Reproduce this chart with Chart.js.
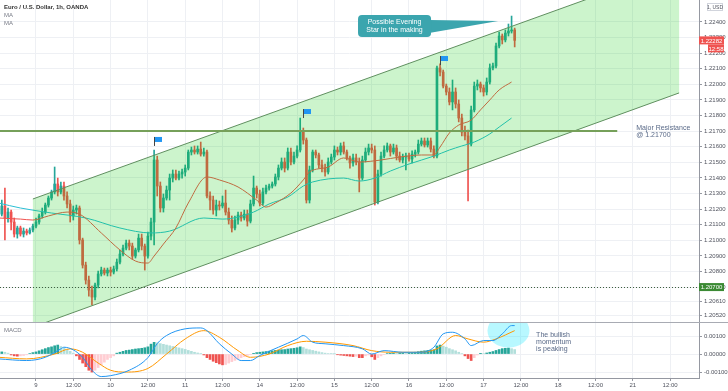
<!DOCTYPE html>
<html><head><meta charset="utf-8">
<script src="https://cdn.jsdelivr.net/npm/chart.js@4"></script>
<style>html,body{margin:0;padding:0;background:#fff;overflow:hidden}</style>
</head><body>
<canvas id="c" width="728" height="391" style="display:block;width:728px;height:391px"></canvas>
<script>
// ---------- DATA ----------
const xTickLabels = ['9','12:00','10','12:00','11','12:00','14','12:00','15','12:00','16','12:00','17','12:00','18','12:00','21','12:00'];
const xTickStart = 12, xTickStep = 12; // hourly bar index of first label and spacing
const priceTicks = [1.224,1.223,1.222,1.221,1.220,1.219,1.218,1.217,1.216,1.215,1.214,1.213,1.212,1.211,1.210,1.209,1.208,1.207,1.2061,1.2052];
const macdTicks = [0.001, 0, -0.001];

const openP = [1.21117,1.21168,1.21220,1.21143,1.21181,1.21117,1.21040,1.21079,1.21040,1.21059,
 1.21047,1.21066,1.21091,1.21117,1.21156,1.21181,1.21226,1.21271,1.21310,1.21361,
 1.21310,1.21348,1.21284,1.21233,1.21156,1.21194,1.21207,1.21002,1.20841,1.20745,
 1.20681,1.20636,1.20713,1.20784,1.20809,1.20790,1.20809,1.20796,1.20816,1.20860,
 1.20912,1.20950,1.20982,1.20963,1.20899,1.20938,1.21014,1.20963,1.20899,1.21027,
 1.21117,1.21515,1.21348,1.21207,1.21271,1.21322,1.21399,1.21425,1.21399,1.21425,
 1.21438,1.21463,1.21566,1.21579,1.21566,1.21585,1.21553,1.21566,1.21284,1.21258,
 1.21194,1.21226,1.21220,1.21239,1.21181,1.21130,1.21079,1.21130,1.21162,1.21143,
 1.21168,1.21123,1.21233,1.21335,1.21297,1.21239,1.21310,1.21335,1.21348,1.21361,
 1.21406,1.21463,1.21502,1.21463,1.21566,1.21502,1.21540,1.21579,1.21701,1.21643,
 1.21258,1.21451,1.21566,1.21547,1.21483,1.21463,1.21438,1.21502,1.21534,1.21579,
 1.21566,1.21605,1.21566,1.21528,1.21496,1.21528,1.21502,1.21399,1.21515,1.21566,
 1.21592,1.21579,1.21245,1.21425,1.21540,1.21579,1.21605,1.21566,1.21592,1.21540,
 1.21515,1.21534,1.21540,1.21521,1.21553,1.21566,1.21617,1.21637,1.21611,1.21637,
 1.21585,1.21540,1.22105,1.22079,1.21989,1.21951,1.21887,1.21951,1.21874,1.21784,
 1.21694,1.21669,1.21617,1.21836,1.21989,1.22002,1.21977,1.21951,1.22015,1.22105,
 1.22118,1.22246,1.22310,1.22285,1.22329,1.22342,1.22349];
const highP = [1.21194,1.21258,1.21335,1.21207,1.21194,1.21143,1.21091,1.21091,1.21079,1.21072,
 1.21079,1.21104,1.21143,1.21168,1.21207,1.21239,1.21284,1.21322,1.21470,1.21399,
 1.21374,1.21374,1.21310,1.21258,1.21220,1.21226,1.21220,1.21014,1.20860,1.20771,
 1.20707,1.20726,1.20803,1.20828,1.20822,1.20822,1.20828,1.20835,1.20880,1.20938,
 1.20970,1.21002,1.21002,1.20982,1.20950,1.21040,1.21040,1.20976,1.21053,1.21143,
 1.21579,1.21540,1.21374,1.21297,1.21348,1.21425,1.21451,1.21451,1.21444,1.21457,
 1.21483,1.21579,1.21598,1.21605,1.21605,1.21630,1.21592,1.21579,1.21310,1.21284,
 1.21258,1.21252,1.21284,1.21322,1.21207,1.21156,1.21156,1.21181,1.21181,1.21194,
 1.21194,1.21258,1.21412,1.21348,1.21322,1.21335,1.21354,1.21361,1.21374,1.21425,
 1.21483,1.21528,1.21528,1.21592,1.21592,1.21566,1.21605,1.21784,1.21720,1.21656,
 1.21476,1.21579,1.21579,1.21560,1.21515,1.21489,1.21528,1.21553,1.21605,1.21598,
 1.21624,1.21630,1.21579,1.21540,1.21553,1.21553,1.21528,1.21540,1.21592,1.21617,
 1.21617,1.21605,1.21451,1.21566,1.21605,1.21624,1.21617,1.21617,1.21611,1.21566,
 1.21553,1.21560,1.21560,1.21573,1.21579,1.21643,1.21656,1.21656,1.21656,1.21656,
 1.21605,1.22118,1.22131,1.22092,1.22002,1.21977,1.22028,1.21977,1.21900,1.21810,
 1.21733,1.21707,1.21861,1.22015,1.22028,1.22015,1.21996,1.22041,1.22131,1.22137,
 1.22265,1.22336,1.22323,1.22349,1.22387,1.22438,1.22361];
const lowP = [1.21091,1.21156,1.21002,1.21117,1.21066,1.21021,1.21014,1.21027,1.21021,1.21034,
 1.21040,1.21053,1.21079,1.21104,1.21143,1.21168,1.21213,1.21258,1.21297,1.21284,
 1.21297,1.21258,1.21207,1.21117,1.21130,1.21168,1.20976,1.20822,1.20719,1.20642,
 1.20585,1.20617,1.20694,1.20771,1.20777,1.20771,1.20771,1.20784,1.20803,1.20848,
 1.20899,1.20938,1.20938,1.20880,1.20886,1.20925,1.20938,1.20809,1.20886,1.21002,
 1.20970,1.21284,1.21181,1.21181,1.21258,1.21258,1.21374,1.21387,1.21387,1.21399,
 1.21412,1.21451,1.21547,1.21553,1.21553,1.21540,1.21540,1.21271,1.21194,1.21168,
 1.21156,1.21194,1.21207,1.21162,1.21104,1.21053,1.21066,1.21104,1.21123,1.21130,
 1.21091,1.21111,1.21220,1.21271,1.21220,1.21226,1.21297,1.21322,1.21335,1.21348,
 1.21387,1.21451,1.21438,1.21451,1.21483,1.21489,1.21528,1.21566,1.21617,1.21239,
 1.21239,1.21438,1.21528,1.21463,1.21438,1.21412,1.21425,1.21489,1.21515,1.21547,
 1.21547,1.21553,1.21515,1.21463,1.21476,1.21483,1.21310,1.21387,1.21502,1.21547,
 1.21560,1.21226,1.21233,1.21412,1.21528,1.21566,1.21540,1.21553,1.21515,1.21502,
 1.21496,1.21451,1.21508,1.21496,1.21534,1.21553,1.21605,1.21598,1.21598,1.21566,
 1.21528,1.21528,1.22054,1.21977,1.21932,1.21868,1.21836,1.21848,1.21759,1.21669,
 1.21643,1.21252,1.21605,1.21823,1.21964,1.21951,1.21925,1.21932,1.22002,1.22092,
 1.22105,1.22233,1.22259,1.22272,1.22310,1.22329,1.22240];
const closeP = [1.21168,1.21220,1.21143,1.21181,1.21117,1.21040,1.21079,1.21040,1.21059,1.21047,
 1.21066,1.21091,1.21117,1.21156,1.21181,1.21226,1.21271,1.21310,1.21361,1.21310,
 1.21348,1.21284,1.21233,1.21156,1.21194,1.21207,1.21002,1.20841,1.20745,1.20681,
 1.20636,1.20713,1.20784,1.20809,1.20790,1.20809,1.20796,1.20816,1.20860,1.20912,
 1.20950,1.20982,1.20963,1.20899,1.20938,1.21014,1.20963,1.20899,1.21027,1.21117,
 1.21515,1.21348,1.21207,1.21271,1.21322,1.21399,1.21425,1.21399,1.21425,1.21438,
 1.21463,1.21566,1.21579,1.21566,1.21585,1.21553,1.21566,1.21284,1.21258,1.21194,
 1.21226,1.21220,1.21239,1.21181,1.21130,1.21079,1.21130,1.21162,1.21143,1.21168,
 1.21123,1.21233,1.21335,1.21297,1.21239,1.21310,1.21335,1.21348,1.21361,1.21406,
 1.21463,1.21502,1.21463,1.21566,1.21502,1.21540,1.21579,1.21701,1.21643,1.21258,
 1.21451,1.21566,1.21547,1.21483,1.21463,1.21438,1.21502,1.21534,1.21579,1.21566,
 1.21605,1.21566,1.21528,1.21496,1.21528,1.21502,1.21399,1.21515,1.21566,1.21592,
 1.21579,1.21245,1.21425,1.21540,1.21579,1.21605,1.21566,1.21592,1.21540,1.21515,
 1.21534,1.21540,1.21521,1.21553,1.21566,1.21617,1.21637,1.21611,1.21637,1.21585,
 1.21540,1.22105,1.22079,1.21989,1.21951,1.21887,1.21951,1.21874,1.21784,1.21694,
 1.21669,1.21617,1.21836,1.21989,1.22002,1.21977,1.21951,1.22015,1.22105,1.22118,
 1.22246,1.22310,1.22285,1.22329,1.22342,1.22349,1.22282];

const maFastIdx = [0,7,11,16,22,26,33,39,44,48,50,53,57,61,67,71,77,83,86,89,94,98,100,106,111,116,123,129,136,140,142,145,148,152,155,158,161,165];
const maFastVal = [1.21143,1.21136,1.21130,1.21156,1.21181,1.21168,1.21047,1.20938,1.20867,1.20854,1.20899,1.20976,1.21079,1.21239,1.21406,1.21387,1.21342,1.21258,1.21213,1.21239,1.21303,1.21387,1.21438,1.21470,1.21528,1.21502,1.21515,1.21534,1.21547,1.21547,1.21598,1.21688,1.21739,1.21771,1.21836,1.21900,1.21964,1.22015];
const maSlowIdx = [0,7,17,28,39,49,55,66,72,82,87,93,98,101,111,116,121,126,132,140,145,149,153,158,161,165];
const maSlowVal = [1.21239,1.21207,1.21175,1.21143,1.21079,1.21047,1.21059,1.21143,1.21136,1.21181,1.21233,1.21277,1.21348,1.21374,1.21399,1.21380,1.21399,1.21444,1.21489,1.21540,1.21579,1.21605,1.21630,1.21682,1.21726,1.21784];

const macdIdx = [0,9,15,20,21,24,27,30,33,36,42,48,51,54,60,65,67,71,75,78,81,84,90,96,98,101,105,111,117,120,124,130,136,140,143,146,150,152,156,159,162,165,166];
const macdVal = [-0.00027,-0.00036,-0.00018,0.00029,0.00038,0.00023,-0.00018,-0.0009,-0.00125,-0.0012,-0.0009,-0.0002,0.00058,0.00103,0.0014,0.00145,0.0013,0.00057,0.0,-0.00036,-0.00036,-0.00008,0.00038,0.00084,0.00103,0.00066,0.00057,0.00047,0.00029,0.0,0.00019,0.0001,0.0001,0.00038,0.00112,0.00121,0.00084,0.00047,0.00075,0.00075,0.00112,0.00158,0.00158];
const signalIdx = [0,9,18,23,27,32,36,41,48,54,60,66,71,77,81,87,93,99,105,114,120,126,135,141,147,151,156,160,166];
const signalVal = [-0.00018,-0.00027,0.0,0.00029,0.0001,-0.0005,-0.0009,-0.001,-0.0008,0.0,0.00084,0.0013,0.00093,0.00019,-0.00018,0.0,0.00047,0.00071,0.00066,0.00047,0.00019,0.0001,0.0001,0.00029,0.00103,0.00084,0.00066,0.00084,0.0013];
const histVal = [0.0001,0.00012,0.0001,0.00005,
 -0.00005,-0.0001,-0.00012,-0.0001,-0.00008,-0.00004,
 0.00003,0.00008,0.00012,
 0.00018,0.00024,0.0003,0.00036,0.0004,0.00046,0.0005,
 0.00042,0.00034,0.00025,0.00015,0.00005,
 -0.0001,-0.0003,-0.0005,-0.0007,-0.0009,-0.001,
 -0.0009,-0.00075,-0.0006,-0.00045,-0.0003,-0.0002,-0.0001,
 0.00005,0.0001,0.00015,0.0002,0.00022,0.00025,0.00028,0.0003,0.00032,0.00035,0.0004,0.00055,
 0.00065,0.00062,0.00058,
 0.00054,0.0005,0.00046,0.00042,0.00038,0.00034,0.0003,0.00026,0.0002,0.00015,
 0.0001,0.00006,0.00002,
 -0.00005,-0.0002,-0.0003,-0.0004,-0.00048,-0.00055,-0.0006,-0.00058,
 -0.0005,-0.00042,-0.00035,-0.00028,-0.0002,-0.00014,-0.00008,-0.00003,
 0.00004,0.00008,0.0001,0.00012,0.00014,0.00016,0.00018,0.0002,0.00022,0.00024,0.00025,0.00028,0.0003,0.00032,0.00035,0.0004,
 0.00036,0.00028,0.00024,0.0002,0.00016,0.00012,0.00008,0.00005,0.00003,0.00002,0.00001,
 -0.00004,-0.00006,-0.00008,-0.0001,-0.00012,-0.00014,-0.00012,
 -0.0002,-0.0002,
 -0.0001,-0.00005,
 -0.00015,-0.0003,
 -0.0002,-0.0001,-0.00003,
 0.00003,0.00004,0.00005,0.00004,0.00005,0.00006,0.00005,0.00006,0.00008,
 0.0001,0.00013,0.00016,0.00018,0.0002,0.00022,0.00024,
 0.00045,0.0005,
 0.00044,0.00038,0.0003,0.00024,0.00018,0.0001,0.00003,
 -0.0001,-0.00025,-0.00036,-0.0002,
 -0.00005,0.00004,0.00003,
 0.00006,0.0001,0.00014,0.0002,0.00025,0.0003,0.00032,
 0.00033,0.0003,0.00025];

// drawings (in bar-index / price coordinates)
const channelUpper = [[11, 1.21265], [218.9, 1.22759]];
const channelLower = [[11, 1.20443], [218.9, 1.21945]];
const resistancePrice = 1.217, resistanceEnd = 199;
const supportPrice = 1.207;
const flagPoints = [[50, 1.21605], [98, 1.21784], [142, 1.22124]];
const lastPrice = 1.22282, countdown = '12:58';
const callout = {x0: 115.6, x1: 139.1, top: 1.22445, bottom: 1.22304, baseTop: 1.22413, baseBottom: 1.22330, tipX: 160.7, tipY: 1.22406,
  lines: ['Possible Evening', 'Star in the making']};
const resistanceNote = {x: 205.1, lines: [['Major Resistance', 1.21721], ['@ 1.21700', 1.21676]]};
const momentumNote = {x: 172.9, lines: [['The bullish', 0.00103], ['momentum', 0.00064], ['is peaking', 0.00025]]};
const highlight = {x: 164, y: 0.0013, rx: 21, ry: 17};

// ---------- STYLE ----------
const bull = '#26a69a', bear = '#ef5350';
const FONT = '"Liberation Sans", Arial, sans-serif';
const idx = closeP.map((_, i) => i);
const pts = (xs, ys) => xs.map((v, k) => ({x: v, y: ys[k]}));
const candleColor = c => closeP[c.dataIndex] >= openP[c.dataIndex] ? bull : bear;
const histColor = c => {
  const i = c.dataIndex, h = histVal[i], p = i > 0 ? histVal[i - 1] : h;
  if (h >= 0) return h >= p ? '#26a69a' : '#b2dfdb';
  return h <= p ? '#ef5350' : '#ffcdd2';
};

function rrect(ctx, x, y, w, h, r) {
  ctx.beginPath();
  ctx.moveTo(x + r, y); ctx.lineTo(x + w - r, y); ctx.quadraticCurveTo(x + w, y, x + w, y + r);
  ctx.lineTo(x + w, y + h - r); ctx.quadraticCurveTo(x + w, y + h, x + w - r, y + h);
  ctx.lineTo(x + r, y + h); ctx.quadraticCurveTo(x, y + h, x, y + h - r);
  ctx.lineTo(x, y + r); ctx.quadraticCurveTo(x, y, x + r, y); ctx.closePath();
}

const overlay = {
  id: 'overlay',
  beforeDatasetsDraw(chart) {
    const {ctx, chartArea: ca, scales: {x, m}} = chart;
    ctx.save();
    ctx.beginPath(); ctx.rect(ca.left, m.top, ca.right - ca.left, m.bottom - m.top); ctx.clip();
    ctx.fillStyle = 'rgba(0,229,255,0.28)';
    ctx.beginPath();
    ctx.ellipse(x.getPixelForValue(highlight.x), m.getPixelForValue(highlight.y), highlight.rx, highlight.ry, 0, 0, Math.PI * 2);
    ctx.fill();
    ctx.restore();
  },
  afterDatasetsDraw(chart) {
    const {ctx, chartArea: ca, scales: {x, y, m}} = chart;
    const P = pt => [x.getPixelForValue(pt[0]), y.getPixelForValue(pt[1])];
    ctx.save();
    ctx.beginPath(); ctx.rect(ca.left, y.top, ca.right - ca.left, y.bottom - y.top); ctx.clip();
    const u0 = P(channelUpper[0]), u1 = P(channelUpper[1]), l0 = P(channelLower[0]), l1 = P(channelLower[1]);
    ctx.fillStyle = 'rgba(0,200,0,0.2)';
    ctx.beginPath(); ctx.moveTo(u0[0], u0[1]); ctx.lineTo(u1[0], u1[1]); ctx.lineTo(l1[0], l1[1]); ctx.lineTo(l0[0], l0[1]); ctx.closePath(); ctx.fill();
    ctx.strokeStyle = '#5f8f5f'; ctx.lineWidth = 1;
    ctx.beginPath(); ctx.moveTo(u0[0], u0[1]); ctx.lineTo(u1[0], u1[1]); ctx.moveTo(l0[0], l0[1]); ctx.lineTo(l1[0], l1[1]); ctx.stroke();
    const ry = Math.round(y.getPixelForValue(resistancePrice));
    ctx.strokeStyle = '#76a05a'; ctx.lineWidth = 2;
    ctx.beginPath(); ctx.moveTo(ca.left, ry); ctx.lineTo(x.getPixelForValue(resistanceEnd), ry); ctx.stroke();
    const sy = Math.round(y.getPixelForValue(supportPrice)) + 0.5;
    ctx.strokeStyle = '#3f5f3f'; ctx.lineWidth = 1; ctx.setLineDash([1, 2]);
    ctx.beginPath(); ctx.moveTo(ca.left, sy); ctx.lineTo(ca.right, sy); ctx.stroke();
    ctx.setLineDash([]);
    for (const f of flagPoints) {
      const fx = Math.round(x.getPixelForValue(f[0])) + 0.5, fy = y.getPixelForValue(f[1]);
      ctx.strokeStyle = '#444'; ctx.lineWidth = 1;
      ctx.beginPath(); ctx.moveTo(fx, fy); ctx.lineTo(fx, fy - 9); ctx.stroke();
      ctx.fillStyle = '#2196f3';
      ctx.fillRect(fx + 0.5, fy - 9, 7, 5);
    }
    const bx0 = x.getPixelForValue(callout.x0), bx1 = x.getPixelForValue(callout.x1);
    const by0 = y.getPixelForValue(callout.top), by1 = y.getPixelForValue(callout.bottom);
    ctx.fillStyle = '#3ba5ae';
    ctx.beginPath();
    ctx.moveTo(bx1 - 2, y.getPixelForValue(callout.baseTop));
    ctx.lineTo(x.getPixelForValue(callout.tipX), y.getPixelForValue(callout.tipY));
    ctx.lineTo(bx1 - 2, y.getPixelForValue(callout.baseBottom));
    ctx.closePath(); ctx.fill();
    rrect(ctx, bx0, by0, bx1 - bx0, by1 - by0, 4); ctx.fill();
    ctx.fillStyle = '#ffffff'; ctx.font = '7px ' + FONT; ctx.textAlign = 'center'; ctx.textBaseline = 'middle';
    const cx = (bx0 + bx1) / 2, cy = (by0 + by1) / 2;
    ctx.fillText(callout.lines[0], cx, cy - 4);
    ctx.fillText(callout.lines[1], cx, cy + 4);
    ctx.restore();

    ctx.save();
    ctx.fillStyle = '#5a6a88'; ctx.font = '7px ' + FONT; ctx.textAlign = 'left'; ctx.textBaseline = 'middle';
    for (const [t, v] of resistanceNote.lines) ctx.fillText(t, x.getPixelForValue(resistanceNote.x), y.getPixelForValue(v));
    for (const [t, v] of momentumNote.lines) ctx.fillText(t, x.getPixelForValue(momentumNote.x), m.getPixelForValue(v));
    ctx.restore();
  },
  afterDraw(chart) {
    const {ctx, chartArea: ca, scales: {y, m}} = chart;
    ctx.save();
    ctx.strokeStyle = '#a8abb3'; ctx.lineWidth = 1;
    ctx.beginPath(); ctx.moveTo(0, Math.round(y.bottom) + 0.5); ctx.lineTo(chart.width, Math.round(y.bottom) + 0.5); ctx.stroke();
    ctx.textAlign = 'left'; ctx.textBaseline = 'middle';
    ctx.fillStyle = '#333'; ctx.font = 'bold 6px ' + FONT;
    ctx.fillText('Euro / U.S. Dollar, 1h, OANDA', 4, 7);
    ctx.fillStyle = '#787b86'; ctx.font = '6px ' + FONT;
    ctx.fillText('MA', 4, 15);
    ctx.fillText('MA', 4, 23);
    ctx.fillText('MACD', 4, m.top + 8);
    const ax = ca.right;
    const box = (text, color, yy, w) => {
      ctx.fillStyle = color;
      ctx.fillRect(ax + (25 - w), yy - 4, w, 8);
      ctx.fillStyle = '#fff'; ctx.font = '6px ' + FONT; ctx.textAlign = 'center';
      ctx.fillText(text, ax + 25 - w / 2, yy + 0.5);
    };
    const ly = y.getPixelForValue(lastPrice);
    box(lastPrice.toFixed(5), '#ef5350', ly, 25);
    box(countdown, '#ef5350', ly + 8, 16);
    box(supportPrice.toFixed(5), '#3b8a34', y.getPixelForValue(supportPrice), 25);
    ctx.fillStyle = '#fff'; ctx.strokeStyle = '#d1d4dc';
    ctx.fillRect(ax + 8, 3, 16, 8); ctx.strokeRect(ax + 8.5, 3.5, 15, 7);
    ctx.fillStyle = '#50535e'; ctx.font = '5px ' + FONT; ctx.textAlign = 'center';
    ctx.fillText('1, USD', ax + 16, 7.5);
    ctx.restore();
  }
};

const tickFont = {family: FONT, size: 6};
const gridCol = '#eef0f4';
const noPad = s => { s.paddingTop = 0; s.paddingBottom = 0; s.paddingLeft = 0; s.paddingRight = 0; };

new Chart(document.getElementById('c'), {
  type: 'bar',
  data: {
    datasets: [
      {type: 'line', data: pts(maFastIdx, maFastVal), yAxisID: 'y', borderColor: '#ef5350', borderWidth: 1, pointRadius: 0, cubicInterpolationMode: 'monotone', order: 1},
      {type: 'line', data: pts(maSlowIdx, maSlowVal), yAxisID: 'y', borderColor: '#2bbfd4', borderWidth: 1, pointRadius: 0, cubicInterpolationMode: 'monotone', order: 1},
      {type: 'bar', data: idx.map(i => ({x: i, y: [openP[i], closeP[i]]})), yAxisID: 'y', backgroundColor: candleColor, barThickness: 2, minBarLength: 1, grouped: false, borderWidth: 0, order: 3},
      {type: 'bar', data: idx.map(i => ({x: i, y: [lowP[i], highP[i]]})), yAxisID: 'y', backgroundColor: candleColor, barThickness: 1, grouped: false, borderWidth: 0, order: 4},
      {type: 'bar', data: idx.map(i => ({x: i, y: histVal[i]})), yAxisID: 'm', backgroundColor: histColor, barThickness: 2, grouped: false, borderWidth: 0, order: 5},
      {type: 'line', data: pts(macdIdx, macdVal), yAxisID: 'm', borderColor: '#2196f3', borderWidth: 1, pointRadius: 0, cubicInterpolationMode: 'monotone', order: 2},
      {type: 'line', data: pts(signalIdx, signalVal), yAxisID: 'm', borderColor: '#ff9800', borderWidth: 1, pointRadius: 0, cubicInterpolationMode: 'monotone', order: 2}
    ]
  },
  options: {
    responsive: false, animation: false, devicePixelRatio: 1,
    layout: {padding: 0},
    plugins: {legend: {display: false}, tooltip: {enabled: false}},
    scales: {
      x: {
        type: 'linear', position: 'bottom', min: 0.42, max: 225.3, offset: false,
        afterBuildTicks: s => { s.ticks = xTickLabels.map((_, k) => ({value: xTickStart + k * xTickStep})); },
        afterFit: s => { s.height = 13; noPad(s); },
        ticks: {callback: (v, k) => xTickLabels[k], font: tickFont, color: '#50535e', padding: 1, maxRotation: 0, autoSkip: false},
        grid: {color: gridCol, tickLength: 3, tickColor: '#9598a1', offset: false},
        border: {color: '#9598a1'}
      },
      y: {
        type: 'linear', position: 'right', stack: 'panes', stackWeight: 322, min: 1.20476, max: 1.22541,
        afterBuildTicks: s => { s.ticks = priceTicks.map(v => ({value: v})); },
        afterFit: s => { s.width = 29; noPad(s); },
        ticks: {callback: v => v.toFixed(5), font: tickFont, color: '#50535e', padding: 2, autoSkip: false},
        grid: {color: gridCol, tickLength: 3, tickColor: '#9598a1'},
        border: {color: '#9598a1'}
      },
      m: {
        type: 'linear', position: 'right', stack: 'panes', stackWeight: 56, min: -0.00133, max: 0.00178,
        afterBuildTicks: s => { s.ticks = macdTicks.map(v => ({value: v})); },
        afterFit: s => { s.width = 29; noPad(s); },
        ticks: {callback: v => v.toFixed(5), font: tickFont, color: '#50535e', padding: 2, autoSkip: false},
        grid: {color: gridCol, tickLength: 3, tickColor: '#9598a1'},
        border: {color: '#9598a1'}
      }
    }
  },
  plugins: [overlay]
});
</script>
</body></html>
